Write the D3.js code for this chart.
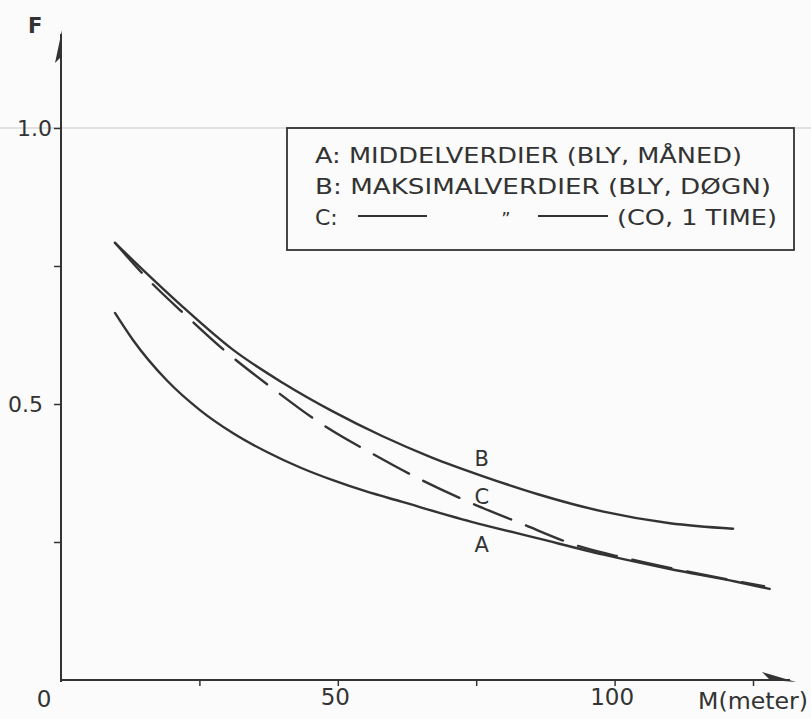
<!DOCTYPE html>
<html><head><meta charset="utf-8">
<script src="https://cdn.jsdelivr.net/npm/d3@7"></script>
<style>
html,body{margin:0;padding:0;background:#fbfbfb;}
text{font-family:"DejaVu Sans",sans-serif;fill:#333;}
</style></head>
<body>
<svg id="c" width="811" height="719"></svg>
<script>
// ---- data ----
const distA = [9.75, 13, 19.1, 25.1, 31.1, 37.2, 43.2, 49.1, 55, 61.5, 74, 86, 98, 110, 122, 128];
const valA  = [0.665, 0.616, 0.543, 0.489, 0.447, 0.413, 0.385, 0.362, 0.342, 0.323, 0.287, 0.257, 0.227, 0.201, 0.178, 0.165];
const distB = [9.75, 14.8, 22, 31.1, 40.1, 49, 58, 67, 76, 86, 98, 110, 121.4];
const valB  = [0.792, 0.743, 0.676, 0.598, 0.538, 0.487, 0.442, 0.403, 0.370, 0.337, 0.305, 0.284, 0.274];
const distC = [9.75, 15.8, 22.5, 30, 38, 46.6, 56.6, 64, 74, 83, 94, 101.5, 110, 127];
const valC  = [0.792, 0.725, 0.661, 0.593, 0.530, 0.467, 0.408, 0.368, 0.321, 0.284, 0.241, 0.222, 0.203, 0.170];
const curveNames = ["A", "B", "C"];
const labelX = [76, 76, 76];
const labelY = [0.245, 0.402, 0.332];
const xTicks = [25, 50, 75, 100, 125];
const xTickLabels = {50: "50", 100: "100"};
const yTicks = [0.25, 0.5, 0.75, 1.0];
const yTickLabels = {0.5: "0.5", 1: "1.0"};
const legendLines = [
  "A: MIDDELVERDIER (BLY, MÅNED)",
  "B: MAKSIMALVERDIER (BLY, DØGN)"
];
const legendC = ["C:", "\u201D", "(CO, 1 TIME)"];
const xTitle = "M(meter)";
const yTitle = "F";

// ---- scales ----
const x = d3.scaleLinear().domain([0, 125]).range([61, 753]);
const y = d3.scaleLinear().domain([0, 1]).range([680, 128]);
const ink = "#333";
const svg = d3.select("#c");

// faint 1.0 line
svg.append("line").attr("x1", 0).attr("x2", 811).attr("y1", y(1)).attr("y2", y(1))
  .attr("stroke", "#d8d8d8").attr("stroke-width", 1.5);

// axes lines
svg.append("line").attr("x1", x(0)).attr("x2", 790).attr("y1", y(0)).attr("y2", y(0))
  .attr("stroke", ink).attr("stroke-width", 2);
svg.append("line").attr("x1", x(0)).attr("x2", x(0)).attr("y1", y(0)+2).attr("y2", 34)
  .attr("stroke", ink).attr("stroke-width", 2);
// arrowheads (half arrows)
svg.append("path").attr("d", `M${x(0)+1},30 L${x(0)-6},63 L${x(0)+1},56 Z`).attr("fill", ink);
svg.append("path").attr("d", `M796,${y(0)+2} L762,${y(0)-8} L770,${y(0)} Z`).attr("fill", ink);

// x axis ticks
const xa = svg.append("g").attr("transform", `translate(0,${y(0)})`)
  .call(d3.axisBottom(x).tickValues(xTicks).tickSize(6).tickPadding(3)
    .tickFormat(d => xTickLabels[d] || ""));
xa.select(".domain").remove();
xa.selectAll("line").attr("stroke", ink).attr("stroke-width", 1.5);
xa.selectAll("text").attr("font-size", 23).attr("fill", "#333").attr("font-family", "DejaVu Sans").attr("dx", -3);
// y axis ticks
const ya = svg.append("g").attr("transform", `translate(${x(0)},0)`)
  .call(d3.axisLeft(y).tickValues(yTicks).tickSize(7).tickPadding(2)
    .tickFormat(d => yTickLabels[d] || ""));
ya.select(".domain").remove();
ya.selectAll("line").attr("stroke", ink).attr("stroke-width", 1.5);
ya.selectAll("text").attr("font-size", 22).attr("fill", "#333").attr("font-family", "DejaVu Sans")
  .attr("dx", d => d === 0.5 ? -9 : 0);

// axis titles / origin
svg.append("text").attr("x", 44).attr("y", 707).attr("text-anchor", "middle").attr("font-size", 23).text("0");
svg.append("text").attr("x", 698).attr("y", 709).attr("font-size", 23)
  .attr("textLength", 110).attr("lengthAdjust", "spacingAndGlyphs").text(xTitle);
svg.append("text").attr("x", 28).attr("y", 33).attr("font-size", 21).attr("font-weight", "bold").text(yTitle);

// curves
const line = d3.line().x(d => x(d[0])).y(d => y(d[1])).curve(d3.curveMonotoneX);
const series = [
  {d: d3.zip(distA, valA), dash: null},
  {d: d3.zip(distB, valB), dash: null},
  {d: d3.zip(distC, valC), dash: "40,16"}
];
series.forEach(s => {
  svg.append("path").attr("d", line(s.d)).attr("fill", "none").attr("stroke", ink)
    .attr("stroke-width", 2.4).attr("stroke-dasharray", s.dash).attr("stroke-linecap", "round");
});
curveNames.forEach((n, i) => {
  svg.append("text").attr("x", x(labelX[i])).attr("y", y(labelY[i])).attr("dy", "0.36em")
    .attr("text-anchor", "middle").attr("font-size", 21).text(n);
});

// legend box
svg.append("rect").attr("x", 287).attr("y", 128).attr("width", 507).attr("height", 122)
  .attr("fill", "none").attr("stroke", ink).attr("stroke-width", 1.8);
const lw = [427, 456];
legendLines.forEach((t, i) => {
  svg.append("text").attr("x", 315).attr("y", 163 + i * 31).attr("font-size", 22)
    .attr("textLength", lw[i]).attr("lengthAdjust", "spacingAndGlyphs").text(t);
});
svg.append("text").attr("x", 315).attr("y", 225).attr("font-size", 22).text(legendC[0]);
svg.append("line").attr("x1", 358).attr("x2", 427).attr("y1", 216).attr("y2", 216).attr("stroke", ink).attr("stroke-width", 1.8);
svg.append("text").attr("x", 506).attr("y", 225).attr("text-anchor", "middle").attr("font-size", 18).text(legendC[1]);
svg.append("line").attr("x1", 538).attr("x2", 608).attr("y1", 216).attr("y2", 216).attr("stroke", ink).attr("stroke-width", 1.8);
svg.append("text").attr("x", 617).attr("y", 225).attr("font-size", 22)
  .attr("textLength", 160).attr("lengthAdjust", "spacingAndGlyphs").text(legendC[2]);
</script>
</body></html>
